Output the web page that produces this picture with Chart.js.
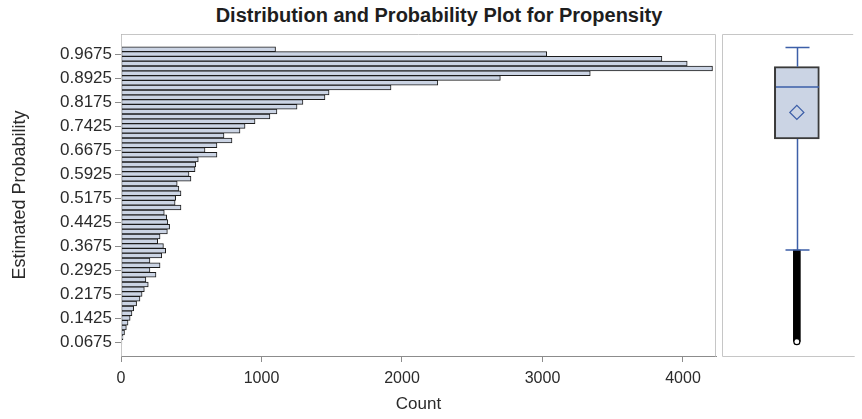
<!DOCTYPE html>
<html>
<head>
<meta charset="utf-8">
<script src="https://cdn.jsdelivr.net/npm/chart.js@4.4.1/dist/chart.umd.min.js"></script>
<style>
  body { margin: 0; background: #fff; }
  #wrap { position: relative; width: 862px; height: 419px; font-family: 'Liberation Sans', Arial, sans-serif; }
  #title { position: absolute; left: 0; top: 4px; width: 878px; text-align: center; font-weight: bold; font-size: 20px; color: #1e1e1e; }
  #hist { position: absolute; left: 0; top: 0; }
  #box { position: absolute; left: 720px; top: 0; }
</style>
</head>
<body>
<div id="wrap">
  <div id="title">Distribution and Probability Plot for Propensity</div>
  <canvas id="hist" width="720" height="419"></canvas>
  <canvas id="box" width="142" height="419"></canvas>
</div>
<script>
/* Histogram bins (bin centres) and counts */
let binCenters = [0.0675, 0.0825, 0.0975, 0.1125, 0.1275, 0.1425, 0.1575, 0.1725, 0.1875, 0.2025,
  0.2175, 0.2325, 0.2475, 0.2625, 0.2775, 0.2925, 0.3075, 0.3225, 0.3375, 0.3525,
  0.3675, 0.3825, 0.3975, 0.4125, 0.4275, 0.4425, 0.4575, 0.4725, 0.4875, 0.5025,
  0.5175, 0.5325, 0.5475, 0.5625, 0.5775, 0.5925, 0.6075, 0.6225, 0.6375, 0.6525,
  0.6675, 0.6825, 0.6975, 0.7125, 0.7275, 0.7425, 0.7575, 0.7725, 0.7875, 0.8025,
  0.8175, 0.8325, 0.8475, 0.8625, 0.8775, 0.8925, 0.9075, 0.9225, 0.9375, 0.9525,
  0.9675, 0.9825]
let counts = [6, 14, 25, 38, 50, 65, 78, 90, 111, 135,
  150, 166, 194, 177, 249, 206, 278, 206, 290, 318,
  302, 261, 278, 330, 346, 333, 325, 308, 427, 385,
  389, 427, 412, 400, 498, 484, 527, 532, 550, 683,
  598, 683, 790, 733, 847, 883, 954, 1060, 1110, 1253,
  1295, 1452, 1481, 1922, 2255, 2700, 3340, 4210, 4030, 3850,
  3030, 1100]

/* Tick labels */
let probTicks = [0.0675, 0.1425, 0.2175, 0.2925, 0.3675, 0.4425, 0.5175, 0.5925, 0.6675, 0.7425, 0.8175, 0.8925, 0.9675]
let countTicks = [0, 1000, 2000, 3000, 4000]

/* Box plot statistics */
let boxQ1 = 0.702
let boxMedian = 0.864
let boxQ3 = 0.928
let boxMean = 0.785
let whiskerLow = 0.355
let whiskerHigh = 0.988
let outlierRange = [0.069, 0.355]
let outlierMin = [0.0685]

// shared axis range so both panels line up
let probMin = 0.02375
let probMax = 1.03

let textColor = '#2b2b2b'
let axisColor = '#8c8c8c'
let frameColor = '#c6c6c6'
let fillColor = '#cbd4e4'
let edgeColor = '#1c1c1c'
let blue = '#3d5fa8'
let fontFamily = "'Liberation Sans', Arial, sans-serif"

// light frame along top and right of the plot area
let framePlugin = {
  id: 'frame',
  afterDraw(chart, args, opts) {
    let a = chart.chartArea
    let c = chart.ctx
    c.save()
    c.strokeStyle = frameColor
    c.lineWidth = 1
    c.beginPath()
    let l = a.left - (opts.leftGap || 0) + 0.5
    c.moveTo(l, a.bottom + 0.5)
    c.lineTo(l, a.top + 0.5)
    c.lineTo(a.right - 0.5, a.top + 0.5)
    if (opts.right) c.lineTo(a.right - 0.5, a.bottom + 0.5)
    if (opts.bottom) { c.moveTo(l, a.bottom + 0.5); c.lineTo(a.right + 1, a.bottom + 0.5) }
    c.stroke()
    c.restore()
  }
}

let histChart = new Chart(document.querySelector('#hist').getContext('2d'), {
  type: 'bar',
  data: {
    datasets: [{
      data: binCenters.map((p, i) => ({ x: counts[i], y: p })),
      backgroundColor: fillColor,
      borderColor: edgeColor,
      borderWidth: 1,
      borderSkipped: false,
      barPercentage: 1,
      categoryPercentage: 1
    }]
  },
  options: {
    indexAxis: 'y',
    responsive: false,
    animation: false,
    devicePixelRatio: 1,
    layout: { padding: { left: 0, right: 4, top: 34, bottom: 0 } },
    plugins: {
      legend: { display: false },
      tooltip: { enabled: false },
      frame: { right: true }
    },
    scales: {
      x: {
        type: 'linear',
        min: 0,
        max: 4235,
        afterBuildTicks: s => { s.ticks = countTicks.map(v => ({ value: v })) },
        afterFit: s => { s.height = 63 },
        grid: { display: true, drawOnChartArea: false, drawTicks: true, tickLength: 6, color: axisColor },
        border: { color: axisColor },
        ticks: { color: textColor, font: { family: fontFamily, size: 16 }, padding: 7, maxRotation: 0, callback: v => String(v) },
        title: { display: true, text: 'Count', color: textColor, font: { family: fontFamily, size: 17 }, padding: { top: 3 } }
      },
      y: {
        type: 'linear',
        min: probMin,
        max: probMax,
        offset: false,
        afterBuildTicks: s => { s.ticks = probTicks.map(v => ({ value: v })) },
        afterFit: s => { s.width = 121 },
        grid: { display: true, offset: false, drawOnChartArea: false, drawTicks: true, tickLength: 6, color: axisColor },
        border: { color: axisColor },
        ticks: { color: textColor, font: { family: fontFamily, size: 17 }, padding: 3, callback: v => v.toFixed(4) },
        title: { display: true, text: 'Estimated Probability', color: textColor, font: { family: fontFamily, size: 18 }, padding: { top: 9 } }
      }
    }
  },
  plugins: [framePlugin]
})

// whiskers, caps and median line, placed through the box chart's scales
let whiskerPlugin = {
  id: 'whiskers',
  afterDatasetsDraw(chart) {
    let y = chart.scales.y
    let boxEl = chart.getDatasetMeta(0).data[0]
    let cx = Math.round(boxEl.x) + 0.5
    let half = boxEl.width / 2
    let cap = 12
    let c = chart.ctx
    c.save()
    c.strokeStyle = blue
    c.lineWidth = 1.5
    c.beginPath()
    // upper whisker
    c.moveTo(cx, y.getPixelForValue(boxQ3))
    c.lineTo(cx, y.getPixelForValue(whiskerHigh))
    c.moveTo(cx - cap, y.getPixelForValue(whiskerHigh))
    c.lineTo(cx + cap, y.getPixelForValue(whiskerHigh))
    // lower whisker
    c.moveTo(cx, y.getPixelForValue(boxQ1))
    c.lineTo(cx, y.getPixelForValue(whiskerLow))
    c.moveTo(cx - cap, y.getPixelForValue(whiskerLow))
    c.lineTo(cx + cap, y.getPixelForValue(whiskerLow))
    // median
    c.moveTo(cx - half + 1, y.getPixelForValue(boxMedian))
    c.lineTo(cx + half - 1, y.getPixelForValue(boxMedian))
    c.stroke()
    c.restore()
  }
}

let boxChart = new Chart(document.querySelector('#box').getContext('2d'), {
  type: 'bar',
  data: {
    labels: ['Propensity'],
    datasets: [
      {
        data: [[boxQ1, boxQ3]],
        backgroundColor: fillColor,
        borderColor: '#3a3a3a',
        borderWidth: 2,
        borderSkipped: false,
        barThickness: 45,
        grouped: false,
        order: 2
      },
      {
        data: [outlierRange],
        backgroundColor: '#000',
        borderWidth: 0,
        barThickness: 7,
        grouped: false,
        order: 3
      },
      {
        type: 'line',
        data: [boxMean],
        showLine: false,
        pointStyle: 'rectRot',
        pointRadius: 7,
        borderColor: blue,
        borderWidth: 1.3,
        backgroundColor: 'rgba(0,0,0,0)',
        order: 1
      },
      {
        type: 'line',
        data: outlierMin,
        showLine: false,
        pointStyle: 'circle',
        pointRadius: 3,
        borderColor: '#000',
        borderWidth: 1.2,
        backgroundColor: '#fff',
        order: 0
      }
    ]
  },
  options: {
    responsive: false,
    animation: false,
    devicePixelRatio: 1,
    layout: { padding: { left: 20, right: 0, top: 34, bottom: 63 } },
    plugins: {
      legend: { display: false },
      tooltip: { enabled: false },
      frame: { leftGap: 18, bottom: true }
    },
    scales: {
      x: { type: 'category', display: false, offset: true },
      y: { type: 'linear', display: false, min: probMin, max: probMax }
    }
  },
  plugins: [framePlugin, whiskerPlugin]
})
</script>
</body>
</html>
